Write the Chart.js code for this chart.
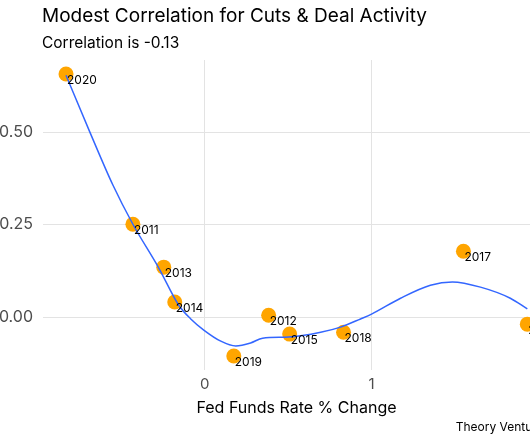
<!DOCTYPE html>
<html><head><meta charset="utf-8">
<script src="https://cdn.jsdelivr.net/npm/chart.js@4/dist/chart.umd.min.js"></script>
<style>
html,body{margin:0;padding:0;background:#fff;overflow:hidden;width:530px;height:442px;}
#wrap{position:absolute;left:0;top:0;width:562px;height:442px;}
</style></head><body>
<div id="wrap"><canvas id="c" width="562" height="442"></canvas></div>
<script>
// Data
const years = ['2020','2011','2013','2014','2019','2012','2015','2018','2017','2016'];
const rateChange = [-0.832,-0.431,-0.246,-0.180,0.174,0.383,0.509,0.832,1.551,1.934];
const dealActivity = [0.657,0.251,0.135,0.041,-0.105,0.005,-0.046,-0.041,0.178,-0.019];
// Loess smooth curve
const smoothX = [-0.832,-0.689,-0.551,-0.431,-0.275,-0.156,-0.084,-0.006,0.096,0.186,0.275,0.347,0.503,0.695,0.814,0.934,1.000,1.174,1.353,1.485,1.653,1.832,1.934];
const smoothY = [0.654,0.500,0.357,0.251,0.132,0.032,-0.005,-0.035,-0.065,-0.078,-0.070,-0.057,-0.054,-0.041,-0.027,-0.005,0.008,0.051,0.086,0.095,0.081,0.051,0.022];
const xTicks = [0, 1];
const xTickLabels = ['0', '1'];
const yTicks = [0, 0.25, 0.5];
const yTickLabels = ['0.00', '0.25', '0.50'];
const titleText = 'Modest Correlation for Cuts & Deal Activity';
const subtitleText = 'Correlation is -0.13';
const xTitle = 'Fed Funds Rate % Change';
const captionText = 'Theory Ventures';

const FONT = 'Inter, "Liberation Sans", sans-serif';

const annot = {
  id: 'annot',
  afterDatasetsDraw(chart) {
    const ctx = chart.ctx;
    const xs = chart.scales.x, ys = chart.scales.y;
    ctx.save();
    ctx.font = '12px ' + FONT;
    ctx.fillStyle = '#000';
    ctx.textAlign = 'left';
    ctx.textBaseline = 'middle';
    years.forEach((yr, i) => {
      const px = xs.getPixelForValue(rateChange[i]);
      const py = ys.getPixelForValue(dealActivity[i]);
      ctx.fillText(yr, px + 1, py + 6);
    });
    ctx.restore();
  },
  afterDraw(chart) {
    const ctx = chart.ctx;
    ctx.save();
    ctx.fillStyle = '#000';
    ctx.textAlign = 'left';
    ctx.textBaseline = 'alphabetic';
    ctx.font = '19px ' + FONT;
    ctx.fillText(titleText, 42, 22);
    ctx.font = '15.5px ' + FONT;
    ctx.fillText(subtitleText, 42, 47.5);
    ctx.font = '12px ' + FONT;
    ctx.textAlign = 'right';
    ctx.textBaseline = 'middle';
    ctx.fillText(captionText, chart.chartArea.right, 427);
    ctx.restore();
  }
};

new Chart(document.getElementById('c'), {
  type: 'scatter',
  data: {
    datasets: [
      {
        label: 'trend',
        data: smoothX.map((x, i) => ({x: x, y: smoothY[i]})),
        showLine: true,
        borderColor: '#3366FF',
        borderWidth: 1.5,
        pointRadius: 0,
        pointHoverRadius: 0,
        cubicInterpolationMode: 'monotone',
        fill: false,
        order: 0
      },
      {
        label: 'years',
        data: rateChange.map((x, i) => ({x: x, y: dealActivity[i]})),
        pointRadius: 7.5,
        pointHoverRadius: 7.5,
        backgroundColor: '#FFA500',
        borderWidth: 0,
        order: 1
      }
    ]
  },
  options: {
    responsive: false,
    animation: false,
    devicePixelRatio: 1,
    layout: {padding: {left: 0, right: 12, top: 60, bottom: 24.4}},
    plugins: {legend: {display: false}, tooltip: {enabled: false}},
    scales: {
      x: {
        type: 'linear',
        min: -0.97, max: 2.07,
        afterBuildTicks: s => { s.ticks = xTicks.map(v => ({value: v})); },
        afterFit: s => { s.height = 47.6; },
        ticks: {
          callback: v => xTickLabels[xTicks.indexOf(v)],
          color: '#4D4D4D',
          font: {family: FONT, size: 15},
          padding: 5,
          maxRotation: 0
        },
        grid: {color: '#E3E3E3', lineWidth: 1, drawTicks: false},
        border: {display: false},
        title: {display: true, text: xTitle, color: '#000', font: {family: FONT, size: 16}, padding: {top: 4, bottom: 0}}
      },
      y: {
        type: 'linear',
        min: -0.143, max: 0.695,
        afterBuildTicks: s => { s.ticks = yTicks.map(v => ({value: v})); },
        afterFit: s => { s.width = 43; },
        ticks: {
          callback: v => yTickLabels[yTicks.indexOf(v)],
          color: '#4D4D4D',
          font: {family: FONT, size: 16},
          padding: 10
        },
        grid: {color: '#E3E3E3', lineWidth: 1, drawTicks: false},
        border: {display: false}
      }
    }
  },
  plugins: [annot]
});
</script>
</body></html>
